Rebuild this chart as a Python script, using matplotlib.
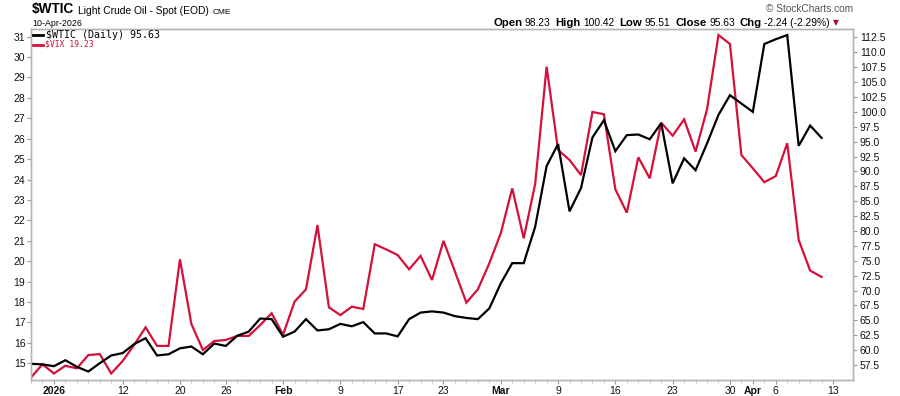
import numpy as np
import matplotlib
matplotlib.use("Agg")
import matplotlib.pyplot as plt
from matplotlib.lines import Line2D

plt.rcParams['font.family'] = ['Liberation Sans', 'DejaVu Sans']

# trading days shown on the chart
dates = ["2025-12-30", "2025-12-31",
         "2026-01-02", "2026-01-05", "2026-01-06", "2026-01-07", "2026-01-08", "2026-01-09",
         "2026-01-12", "2026-01-13", "2026-01-14", "2026-01-15", "2026-01-16",
         "2026-01-20", "2026-01-21", "2026-01-22", "2026-01-23",
         "2026-01-26", "2026-01-27", "2026-01-28", "2026-01-29", "2026-01-30",
         "2026-02-02", "2026-02-03", "2026-02-04", "2026-02-05", "2026-02-06",
         "2026-02-09", "2026-02-10", "2026-02-11", "2026-02-12", "2026-02-13",
         "2026-02-17", "2026-02-18", "2026-02-19", "2026-02-20",
         "2026-02-23", "2026-02-24", "2026-02-25", "2026-02-26", "2026-02-27",
         "2026-03-02", "2026-03-03", "2026-03-04", "2026-03-05", "2026-03-06",
         "2026-03-09", "2026-03-10", "2026-03-11", "2026-03-12", "2026-03-13",
         "2026-03-16", "2026-03-17", "2026-03-18", "2026-03-19", "2026-03-20",
         "2026-03-23", "2026-03-24", "2026-03-25", "2026-03-26", "2026-03-27",
         "2026-03-30", "2026-03-31", "2026-04-01", "2026-04-02",
         "2026-04-06", "2026-04-07", "2026-04-08", "2026-04-09", "2026-04-10"]

wtic = [57.7, 57.6, 57.3, 58.3, 57.2, 56.4, 57.8, 59.1, 59.5, 61.0, 62.0,
        59.1, 59.3, 60.3, 60.6, 59.3, 61.1, 60.7, 62.4, 63.1, 65.3,
        65.2, 62.25, 63.1, 65.2, 63.3, 63.5, 64.4, 64.0, 64.7, 62.8,
        62.8, 62.3, 65.2, 66.3, 66.5, 66.3, 65.7, 65.4, 65.2, 67.0,
        71.2, 74.6, 74.6, 80.7, 90.9, 94.6, 83.3, 87.2, 95.7, 98.6,
        93.4, 96.1, 96.2, 95.4, 98.1, 88.0, 92.2, 90.2, 94.7, 99.5,
        102.8, 101.4, 100.0, 111.4, 112.2, 112.9, 94.3, 97.7, 95.63]

vix = [14.3, 14.95, 14.5, 14.88, 14.75, 15.4, 15.45, 14.5, 15.11, 15.9, 16.76,
       15.85, 15.85, 20.09, 16.92, 15.65, 16.09, 16.14, 16.34, 16.34, 16.87,
       17.45, 16.4, 18.02, 18.62, 21.77, 17.74, 17.36, 17.77, 17.66, 20.83,
       20.58, 20.3, 19.6, 20.26, 19.08, 21.0, 19.49, 17.97, 18.62, 19.9,
       21.37, 23.57, 21.12, 23.78, 29.53, 25.45, 24.96, 24.22, 27.31, 27.2,
       23.52, 22.38, 25.09, 24.06, 26.79, 26.15, 26.95, 25.37, 27.44, 31.08,
       30.64, 25.2, 24.55, 23.87, 24.17, 25.78, 21.04, 19.54, 19.23]

tick_dates = ["2026-01-02", "2026-01-12", "2026-01-20", "2026-01-26", "2026-02-02",
              "2026-02-09", "2026-02-17", "2026-02-23", "2026-03-02", "2026-03-09",
              "2026-03-16", "2026-03-23", "2026-03-30", "2026-04-01", "2026-04-06",
              "2026-04-13"]
tick_labels = ["2026", "12", "20", "26", "Feb", "9", "17", "23", "Mar", "9",
               "16", "23", "30", "Apr", "6", "13"]
bold_labels = ["2026", "Feb", "Mar", "Apr"]
left_ticks = list(range(15, 32))
right_ticks = [57.5 + 2.5 * k for k in range(23)]

W, H = 900, 396


def fx(px):
    return px / W


def fy(py):
    return 1 - py / H


x = np.arange(len(dates))
# Apr 13 is the next session after the last date
tick_pos = [dates.index(d) if d in dates else len(dates) for d in tick_dates]

red = '#d3113a'
frame = '#b4b4b4'

fig = plt.figure(figsize=(W / 100, H / 100), dpi=100)
ax = fig.add_axes([fx(31), fy(380), (853 - 31) / W, (380 - 28.5) / H])
ax.plot(x, vix, color=red, lw=1.6, solid_joinstyle='miter')
ax2 = ax.twinx()
ax2.plot(x, wtic, color='black', lw=1.6, solid_joinstyle='miter')

ax.set_xlim(0.51, 71.74)
ax.set_ylim(14.18, 31.4)
ax2.set_ylim(54.98, 114.0)

for a in (ax, ax2):
    for s in a.spines.values():
        s.set_color(frame)
        s.set_linewidth(1.0)

ax.set_yticks(left_ticks)
ax.set_yticklabels([str(v) for v in left_ticks])
ax2.set_yticks(right_ticks)
ax2.set_yticklabels(["%.1f" % v for v in right_ticks])
ax.tick_params(axis='y', length=3, width=0.8, color='#999999', labelsize=7.5,
               labelcolor='#111111', pad=1)
ax2.tick_params(axis='y', length=3, width=0.8, color='#999999', labelsize=7.5,
                labelcolor='#111111', pad=2)

ax.set_xticks(tick_pos)
ax.set_xticklabels(tick_labels)
ax.set_xticks(x, minor=True)
ax.tick_params(axis='x', which='major', length=3, width=0.8, color='#999999',
               labelsize=7.5, labelcolor='#111111', pad=1)
ax.tick_params(axis='x', which='minor', length=2, width=0.6, color='#bbbbbb')
for lab in ax.get_xticklabels():
    if lab.get_text() in bold_labels:
        lab.set_fontweight('bold')

renderer = fig.canvas.get_renderer()


def text_row(items, x0, y):
    # place texts one after another, each gap in pixels
    px = x0
    for txt, gap, kw in items:
        px += gap
        t = fig.text(fx(px), fy(y), txt, va='baseline', **kw)
        px += t.get_window_extent(renderer=renderer).width
    return px


# title block
text_row([(r"\$WTIC", 0, dict(fontsize=9.8, fontweight='bold')),
          ("Light Crude Oil - Spot (EOD)", 4, dict(fontsize=7.4)),
          ("CME", 4, dict(fontsize=6.0))], 31.5, 13.5)
fig.text(fx(32), fy(25.5), "10-Apr-2026", fontsize=6.4, va='baseline')

fig.text(fx(853), fy(12.5), "\u00a9 StockCharts.com", fontsize=7.3, color='#555555',
         ha='right', va='baseline')

bold = dict(fontsize=8.2, fontweight='bold')
norm = dict(fontsize=7.4)
end = text_row([("Open", 0, bold), ("98.23", 2.5, norm),
                ("High", 5, bold), ("100.42", 2.5, norm),
                ("Low", 5, bold), ("95.51", 2.5, norm),
                ("Close", 5, bold), ("95.63", 2.5, norm),
                ("Chg", 5, bold), ("-2.24 (-2.29%)", 2.5, norm)], 493, 25.5)
fig.text(fx(end + 6), fy(22.5), "\u25bc", fontsize=5.5, color='#a0102a',
         ha='center', va='center', family='DejaVu Sans')

# legend
fig.add_artist(Line2D([fx(33), fx(43)], [fy(34.5), fy(34.5)], color='black', lw=2))
fig.text(fx(46.5), fy(34.5), r"\$WTIC (Daily) 95.63", fontsize=7.2,
         family='DejaVu Sans Mono', va='center')
fig.add_artist(Line2D([fx(33), fx(43)], [fy(44.5), fy(44.5)], color=red, lw=2))
fig.text(fx(45), fy(44.5), r"\$VIX 19.23", fontsize=5.8, color=red,
         family='DejaVu Sans Mono', va='center')

fig.savefig("out.png", dpi=100)
